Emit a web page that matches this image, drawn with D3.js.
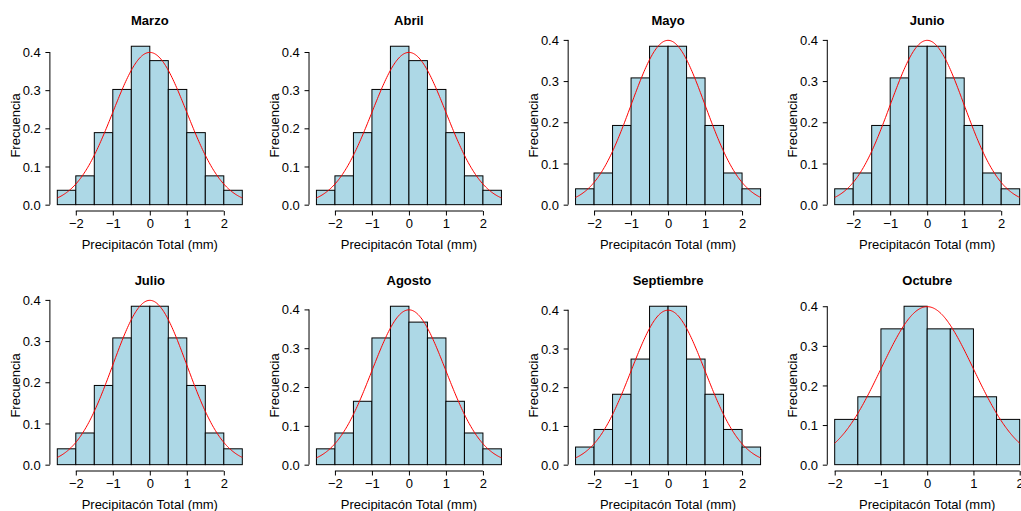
<!DOCTYPE html>
<html>
<head>
<meta charset="utf-8">
<script src="https://cdn.jsdelivr.net/npm/d3@7"></script>
<style>
  html, body { margin: 0; padding: 0; background: #fff; }
  svg { display: block; }
  text { font-family: "Liberation Sans", Arial, Helvetica, sans-serif; fill: #000; }
</style>
</head>
<body>
<svg id="chart" width="1021" height="511"></svg>
<script>
// Monthly histograms of total precipitation (standardised), density scale
const months = ["Marzo", "Abril", "Mayo", "Junio", "Julio", "Agosto", "Septiembre", "Octubre"];

// Bin edges
const breaksWide = [-2.5, -2, -1.5, -1, -0.5, 0, 0.5, 1, 1.5, 2, 2.5];
const breaksNarrow = [-2, -1.5, -1, -0.5, 0, 0.5, 1, 1.5, 2];

// Bin densities per month
const densMarzo      = [0.0377, 0.0755, 0.1887, 0.3019, 0.4151, 0.3774, 0.3019, 0.1887, 0.0755, 0.0377];
const densAbril      = [0.0377, 0.0755, 0.1887, 0.3019, 0.4151, 0.3774, 0.3019, 0.1887, 0.0755, 0.0377];
const densMayo       = [0.0385, 0.0769, 0.1923, 0.3077, 0.3846, 0.3846, 0.3077, 0.1923, 0.0769, 0.0385];
const densJunio      = [0.0385, 0.0769, 0.1923, 0.3077, 0.3846, 0.3846, 0.3077, 0.1923, 0.0769, 0.0385];
const densJulio      = [0.0385, 0.0769, 0.1923, 0.3077, 0.3846, 0.3846, 0.3077, 0.1923, 0.0769, 0.0385];
const densAgosto     = [0.0408, 0.0816, 0.1633, 0.3265, 0.4082, 0.3673, 0.3265, 0.1633, 0.0816, 0.0408];
const densSeptiembre = [0.0455, 0.0909, 0.1818, 0.2727, 0.4091, 0.4091, 0.2727, 0.1818, 0.0909, 0.0455];
const densOctubre    = [0.1143, 0.1714, 0.3429, 0.4000, 0.3429, 0.3429, 0.1714, 0.1143];

const monthDens = [densMarzo, densAbril, densMayo, densJunio, densJulio, densAgosto, densSeptiembre, densOctubre];
const monthBreaks = [breaksWide, breaksWide, breaksWide, breaksWide, breaksWide, breaksWide, breaksWide, breaksNarrow];

// Reference normal curve parameters (mean, sd)
const curveMean = [0, 0, 0, 0, 0, 0, 0, 0];
const curveSd   = [1, 1, 1, 1, 1, 1, 1, 1];

// Axis tick labels
const xTicks = [-2, -1, 0, 1, 2];
const yTicks = [0, 0.1, 0.2, 0.3, 0.4];

const xLabel = "Precipitacón Total (mm)";
const yLabel = "Frecuencia";

// Panel geometry
const panelLeft0 = 49.9, panelStepX = 259.13, panelW = 199.8;
const panelTop0 = 39.9, panelStepY = 260, panelH = 171.1;
const FS = 13;

const svg = d3.select("#chart");

function dnorm(x, m, s) {
  const z = (x - m) / s;
  return Math.exp(-0.5 * z * z) / (s * Math.sqrt(2 * Math.PI));
}

months.forEach((name, i) => {
  const col = i % 4, row = Math.floor(i / 4);
  const left = panelLeft0 + panelStepX * col;
  const top = panelTop0 + panelStepY * row;
  const bottom = top + panelH;

  const breaks = monthBreaks[i];
  const dens = monthDens[i];
  const bins = dens.map((d, j) => ({ x0: breaks[j], x1: breaks[j + 1], d }));

  // base-graphics style 4% padding around data range
  const xr = [breaks[0], breaks[breaks.length - 1]];
  const xpad = 0.04 * (xr[1] - xr[0]);
  const ymax = d3.max(dens);
  const ypad = 0.04 * ymax;

  const x = d3.scaleLinear().domain([xr[0] - xpad, xr[1] + xpad]).range([left, left + panelW]);
  const y = d3.scaleLinear().domain([-ypad, ymax + ypad]).range([bottom, top]);

  const g = svg.append("g");

  // bars
  g.selectAll("rect.bar").data(bins).join("rect")
    .attr("class", "bar")
    .attr("x", b => x(b.x0))
    .attr("y", b => y(b.d))
    .attr("width", b => x(b.x1) - x(b.x0))
    .attr("height", b => y(0) - y(b.d))
    .attr("fill", "#ADD8E6")
    .attr("stroke", "#000")
    .attr("stroke-width", 1);

  // normal density curve
  const curvePts = d3.range(0, 201).map(k => {
    const xv = xr[0] + (xr[1] - xr[0]) * k / 200;
    return [xv, dnorm(xv, curveMean[i], curveSd[i])];
  });
  g.append("path")
    .datum(curvePts)
    .attr("fill", "none")
    .attr("stroke", "#FF0000")
    .attr("stroke-width", 1)
    .attr("d", d3.line().x(p => x(p[0])).y(p => y(p[1])));

  // x axis
  const xa = g.append("g")
    .attr("transform", `translate(0,${bottom})`)
    .call(d3.axisBottom(x).tickValues(xTicks).tickSize(4.5).tickPadding(2.8).tickFormat(d3.format("d")));
  xa.select(".domain").remove();
  xa.append("line")
    .attr("x1", x(xTicks[0])).attr("x2", x(xTicks[xTicks.length - 1]))
    .attr("stroke", "#000");
  xa.selectAll("text").attr("font-size", FS).attr("font-family", null).style("fill", "#000");
  xa.attr("font-size", null).attr("font-family", null);

  // y axis
  const ya = g.append("g")
    .attr("transform", `translate(${left},0)`)
    .call(d3.axisLeft(y).tickValues(yTicks).tickSize(4.5).tickPadding(4.7).tickFormat(d3.format(".1f")));
  ya.select(".domain").remove();
  ya.append("line")
    .attr("y1", y(yTicks[0])).attr("y2", y(yTicks[yTicks.length - 1]))
    .attr("stroke", "#000");
  ya.selectAll("text").attr("font-size", FS).attr("dy", "0.35em").style("fill", "#000");
  ya.attr("font-size", null).attr("font-family", null);

  // titles
  g.append("text")
    .attr("x", left + panelW / 2).attr("y", top - 14.6)
    .attr("text-anchor", "middle")
    .attr("font-size", FS).attr("font-weight", "bold")
    .text(name);

  g.append("text")
    .attr("x", left + panelW / 2).attr("y", bottom + 38)
    .attr("text-anchor", "middle")
    .attr("font-size", FS)
    .text(xLabel);

  g.append("text")
    .attr("transform", `translate(${left - 29.9},${(top + bottom) / 2}) rotate(-90)`)
    .attr("text-anchor", "middle")
    .attr("font-size", FS)
    .text(yLabel);
});
</script>
</body>
</html>
